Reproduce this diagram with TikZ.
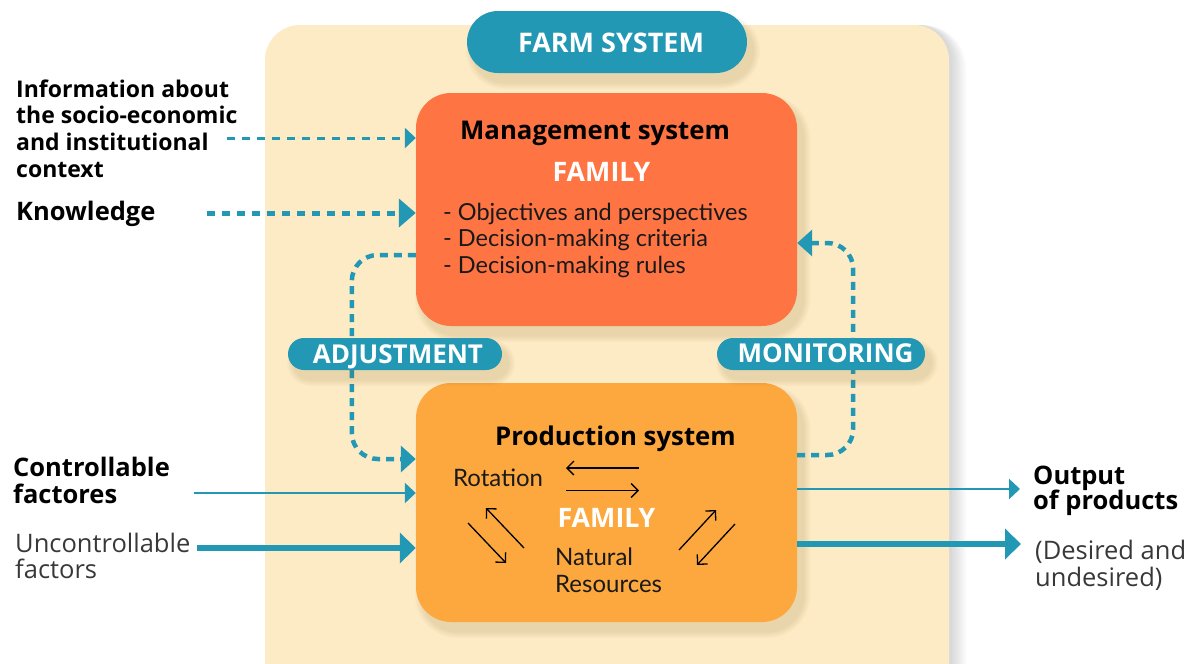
\documentclass[tikz,border=0pt]{standalone}
\usepackage{fontspec}
\setmainfont{Open Sans}
\newfontfamily\lightfont{Lato}
\usetikzlibrary{arrows.meta,calc}
\definecolor{panelc}{HTML}{FDEBC6}
\definecolor{tealc}{HTML}{2298B5}
\definecolor{mgmtc}{HTML}{FF7443}
\definecolor{prodc}{HTML}{FCA83E}
\definecolor{shadowc}{HTML}{8A6A30}

% soft shadow made of stacked translucent rounded rectangles
\newcommand\softshadow[5]{%
  \foreach \k in {1,...,7}{%
    \fill[shadowc, opacity=0.022, rounded corners=#5+\k]
      (#1+6-\k, #2+9-\k) rectangle (#3+6+\k, #4+9+\k);
  }}

\tikzset{
  box/.style={draw=none, rounded corners=35pt, minimum width=381pt},
  pill/.style={draw=none, fill=tealc},
  pilltext/.style={anchor=base, text=white, inner sep=0pt, font=\bfseries\fontsize{26}{30}\selectfont},
  title/.style={anchor=base, inner sep=0pt, font=\bfseries\fontsize{25.8}{30}\selectfont},
  whitetitle/.style={anchor=base, inner sep=0pt, text=white, font=\bfseries\fontsize{26.8}{30}\selectfont},
  bullet/.style={anchor=base west, inner sep=0pt, font=\lightfont\fontsize{23.5}{27}\selectfont, text=black!90},
  inner/.style={anchor=base west, inner sep=0pt, font=\lightfont\fontsize{24}{27}\selectfont, text=black!90},
  lefttext/.style={anchor=base west, font=\bfseries\fontsize{23}{27}\selectfont, inner sep=0pt},
  bigtext/.style={anchor=base west, font=\bfseries\fontsize{25.5}{29}\selectfont, inner sep=0pt},
  lighttext/.style={anchor=base west, font=\fontsize{25.5}{28}\selectfont, inner sep=0pt, text=black!78},
  thinarrow/.style={draw=tealc, line width=2.6pt, -{Triangle[length=11pt,width=20pt]}},
  thickarrow/.style={draw=tealc, line width=5.5pt, -{Triangle[length=16pt,width=30pt]}},
  dashthin/.style={draw=tealc, line width=3pt, dash pattern=on 8pt off 7pt, -{Triangle[length=11pt,width=20pt]}},
  dashthick/.style={draw=tealc, line width=5pt, dash pattern=on 8pt off 7pt, -{Triangle[length=17pt,width=28pt]}},
  dotloop/.style={draw=tealc, line width=4.5pt, dash pattern=on 8pt off 6pt, rounded corners=26pt, -{Triangle[length=15pt,width=26pt]}},
  smallarrow/.style={draw=black, line width=1.3pt, -{Straight Barb[length=7pt,width=14pt,line width=1.3pt]}}
}

\begin{document}
\begin{tikzpicture}[x=1pt,y=-1pt]
\useasboundingbox (0,0) rectangle (1200,664);
\clip (0,0) rectangle (1200,664);

% farm panel with its shadow
\foreach \k in {1,...,8}{
  \fill[black, opacity=0.018, rounded corners=35pt+\k] (265,25) rectangle (950+2*\k,720);
}
\fill[panelc, rounded corners=35pt] (265,25) rectangle (949,720);

% farm system label
\softshadow{467}{11}{747}{73}{31}
\node[pill, minimum width=280pt, minimum height=62pt, rounded corners=31pt] (farm) at (607,42) {};
\node[anchor=base, inner sep=0pt, text=white, font=\bfseries\fontsize{27}{30}\selectfont] (farmtxt) at (611,52.3) {FARM SYSTEM};

% management system
\softshadow{416}{93}{797}{326}{35}
\node[box, fill=mgmtc, minimum height=233pt] (mgmt) at (606.5,209.5) {};
\node[title] (mtitle) at (595,139.5) {Management system};
\node[whitetitle] (mfam) at (601.5,181.7) {FAMILY};
\node[bullet] (b1) at (443,220.7) {- Objectives and perspectives};
\node[bullet] (b2) at (443,246.7) {- Decision-making criteria};
\node[bullet] (b3) at (443,273) {- Decision-making rules};

% production system
\softshadow{416}{383}{797}{622}{35}
\node[box, fill=prodc, minimum height=239pt] (prod) at (606.5,502.5) {};
\node[title] (ptitle) at (615.5,445) {Production system};
\node[inner] (rot) at (453,486) {Rotation};
\node[whitetitle] (pfam) at (606.5,527) {FAMILY};
\node[inner] (nat) at (555,565.7) {Natural};
\node[inner] (res) at (555,592) {Resources};

% exchanges inside the production system
\draw[smallarrow] (639,468) -- (566,468);
\draw[smallarrow] (566,490.5) -- (639,490.5);
\draw[smallarrow] (524,548) -- (486,508);
\draw[smallarrow] (468,523) -- (506,563);
\draw[smallarrow] (679,550) -- (716,510);
\draw[smallarrow] (735,524) -- (697,565);

% adjustment and monitoring loops
\draw[dotloop] ([yshift=-45.5pt]mgmt.west) -- ++(-64,0) |- ([yshift=43.5pt]prod.west);
\draw[dotloop] ([yshift=47.5pt]prod.east) -- ++(56,0) |- ([yshift=-33.5pt]mgmt.east);

\softshadow{288}{338}{502}{370}{16}
\node[pill, minimum width=214pt, minimum height=32pt, rounded corners=16pt] (adj) at (395,354) {};
\node[pilltext] (adjtxt) at (398,363) {ADJUSTMENT};
\softshadow{717}{338}{925}{370}{16}
\node[pill, minimum width=208pt, minimum height=32pt, rounded corners=16pt] (mon) at (821,354) {};
\node[pilltext] (montxt) at (825.5,362.5) {MONITORING};

% inputs on the left
\node[lefttext] (i1) at (16,97.3) {Information about};
\node[lefttext] (i2) at (16,123.8) {the socio-economic};
\node[lefttext] (i3) at (16,150.5) {and institutional};
\node[lefttext] (i4) at (16,177.3) {context};
\node[bigtext] (know) at (16,220) {Knowledge};
\coordinate (infostart) at (227,138);
\coordinate (knowstart) at (207,213);
\draw[dashthin] (infostart) -- (infostart -| mgmt.west);
\draw[dashthick] (knowstart) -- (knowstart -| mgmt.west);

\node[bigtext] (c1) at (13,476) {Controllable};
\node[bigtext] (c2) at (13,503) {factores};
\node[lighttext] (u1) at (15,552) {Uncontrollable};
\node[lighttext] (u2) at (15,578) {factors};
\coordinate (ctrlstart) at (194,493);
\coordinate (uncstart) at (197,548);
\draw[thinarrow] (ctrlstart) -- (ctrlstart -| prod.west);
\draw[thickarrow] (uncstart) -- (uncstart -| prod.west);

% outputs on the right
\node[bigtext] (o1) at (1033,484) {Output};
\node[bigtext] (o2) at (1033,509) {of products};
\node[lighttext] (d1) at (1035,559) {(Desired and};
\node[lighttext] (d2) at (1035,586) {undesired)};
\coordinate (outend) at (1020,489);
\coordinate (desend) at (1021,544);
\draw[thinarrow] (prod.east |- outend) -- (outend);
\draw[thickarrow] (prod.east |- desend) -- (desend);
\end{tikzpicture}
\end{document}
